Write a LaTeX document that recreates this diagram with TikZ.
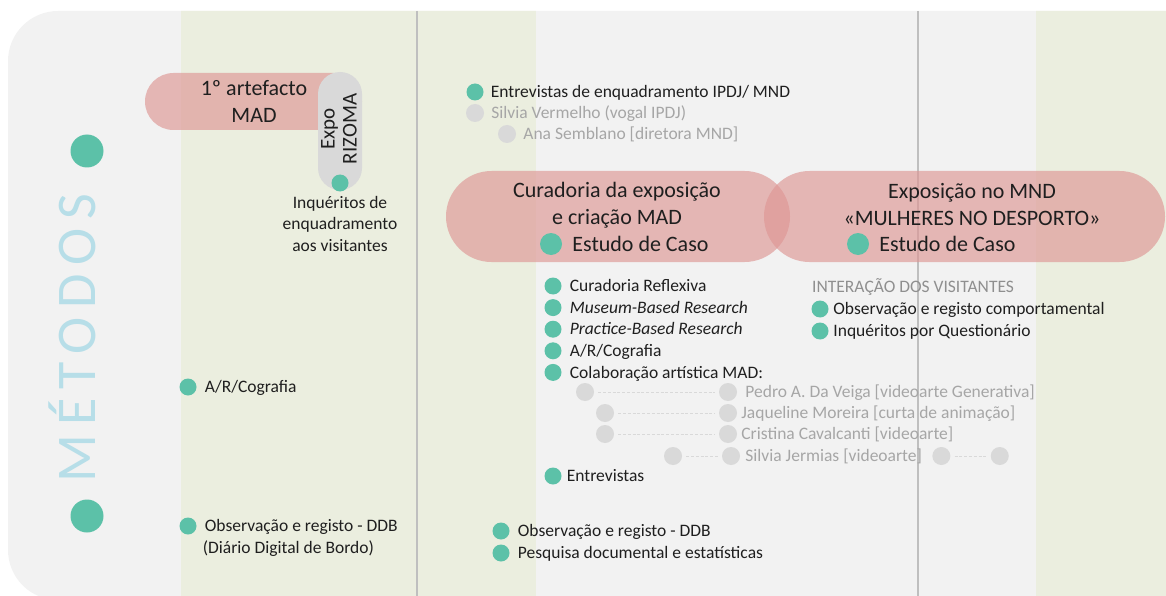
\documentclass[tikz,border=0pt]{standalone}
\usepackage{fontspec}
\setmainfont{Carlito}
\newfontfamily\metfont[LetterSpace=16]{Carlito}
\usepackage{tikz}
\usetikzlibrary{positioning}
\definecolor{bggray}{HTML}{F2F2F2}
\definecolor{bandgreen}{HTML}{EBEEDF}
\definecolor{sepgray}{HTML}{BFBFBF}
\definecolor{pillpink}{HTML}{DE9694}
\definecolor{expogray}{HTML}{D9D9D9}
\definecolor{dotgreen}{HTML}{5CC1A8}
\definecolor{dotgray}{HTML}{D9D9D9}
\definecolor{ink}{HTML}{1F1F1F}
\definecolor{namegray}{HTML}{A6A6A6}
\definecolor{headgray}{HTML}{8F8F8F}
\definecolor{metblue}{HTML}{B7DEE8}
\tikzstyle{every node}+=[inner sep=0pt]
\tikzstyle{ldot} = [circle, fill=dotgreen, minimum size=17pt]
\tikzstyle{bigdot} = [circle, fill=dotgreen, minimum size=33pt]
\tikzstyle{casedot} = [circle, fill=dotgreen, minimum size=22pt]
\tikzstyle{gdot} = [circle, fill=dotgray, minimum size=18pt]
\tikzstyle{small} = [font=\fontsize{17.5}{21.5}\selectfont, text=ink]
\tikzstyle{item} = [small, text height=11.3pt, text depth=0pt]
\tikzstyle{person} = [item, text=namegray]
\tikzstyle{pill} = [rectangle, fill=pillpink, fill opacity=0.65, text opacity=1]
\tikzstyle{pilltext} = [font=\fontsize{22}{27}\selectfont, text=ink, align=center]
\tikzstyle{casetext} = [font=\fontsize{22}{26}\selectfont, text=ink, text height=14.2pt, text depth=0pt]
\tikzstyle{metodos} = [font=\metfont\fontsize{56}{60}\selectfont, text=metblue, text height=36pt, text depth=0pt]
\tikzstyle{sepline} = [draw=sepgray, line width=1.5pt]
\tikzstyle{dashlink} = [draw=dotgray, line width=0.9pt, dash pattern=on 3pt off 1.8pt, shorten <=4pt, shorten >=4pt]

\begin{document}
\begin{tikzpicture}[x=1pt, y=-1pt, node distance=8pt]
  \useasboundingbox (0,0) rectangle (1166,596);
  \clip (0,0) rectangle (1166,596);
  % Background and columns
  \fill[bggray, rounded corners=50pt] (8,11) rectangle (1216,600);
  \begin{scope}
    \clip[rounded corners=50pt] (8,11) rectangle (1216,600);
    \fill[bandgreen] (181,0) rectangle (536,600);
    \fill[bandgreen] (1036,0) rectangle (1216,600);
  \end{scope}
  \draw[sepline] (417,11) -- (417,600);
  \draw[sepline] (918,11) -- (918,600);

  % Title
  \node[bigdot] (mTop) at (87,151) {};
  \node[bigdot] (mBot) at (87,516) {};
  \node[metodos, rotate=90] (mTitle) at (77,338) {MÉTODOS};

  % First artefact and Expo
  \node[pill, minimum width=217pt, minimum height=57pt, rounded corners=28.5pt] (art) at (253.5,101.5) {};
  \node[pilltext] (artT) at (254,101) {1º artefacto\\MAD};
  \node[fill=expogray, minimum width=44pt, minimum height=118pt, rounded corners=22pt] (expo) at (340,131) {};
  \node[pilltext, font=\fontsize{21}{22}\selectfont, rotate=90] (expoT) at (339,129) {Expo\\RIZOMA};
  \node[ldot] (dExpo) at (340,183) {};
  \node[small, align=center, below=4pt of dExpo] (inq) {Inquéritos de\\enquadramento\\aos visitantes};

  % Left column
  \node[ldot] (dArc1) at (188,387) {};
  \node[item, right=8pt of dArc1] (arc1) {A/R/Cografia};
  \node[ldot] (dDdb1) at (188,526) {};
  \node[item, right=8pt of dDdb1] (ddb1) {Observação e registo - DDB};
  \node[item, anchor=west] (ddb1b) at ([xshift=-2pt, yshift=-21.5pt]ddb1.west) {(Diário Digital de Bordo)};

  % Interviews
  \node[ldot] (dEnt) at (475,92) {};
  \node[item, right=7pt of dEnt] (ent) {Entrevistas de enquadramento IPDJ/ MND};
  \node[gdot] (gSv) at (475,113) {};
  \node[person, right=7pt of gSv] (sv) {Silvia Vermelho (vogal IPDJ)};
  \node[gdot] (gAs) at (507,134) {};
  \node[person, right=7pt of gAs] (as) {Ana Semblano [diretora MND]};

  % Case studies
  \node[pill, minimum width=344pt, minimum height=91pt, rounded corners=45.5pt] (cur) at (618,216.5) {};
  \node[pill, minimum width=401pt, minimum height=91pt, rounded corners=45.5pt] (exp) at (964.5,216.5) {};
  \node[pilltext] (curT) at (617,205) {Curadoria da exposição\\e criação MAD};
  \node[pilltext] (expT) at (972,205) {Exposição no MND\\«MULHERES NO DESPORTO»};
  \node[casedot] (dCur) at (551,244) {};
  \node[casetext, right=10pt of dCur] (curC) {Estudo de Caso};
  \node[casedot] (dExp) at (858,244) {};
  \node[casetext, right=10pt of dExp] (expC) {Estudo de Caso};

  % Curation methods
  \node[ldot] (dM1) at (553,286) {};
  \node[item, right=8pt of dM1] (m1) {Curadoria Reflexiva};
  \node[ldot, below=4.2pt of dM1] (dM2) {};
  \node[item, right=8pt of dM2] (m2) {\itshape Museum-Based Research};
  \node[ldot, below=4.2pt of dM2] (dM3) {};
  \node[item, right=8pt of dM3] (m3) {\itshape Practice-Based Research};
  \node[ldot, below=4.2pt of dM3] (dM4) {};
  \node[item, right=8pt of dM4] (m4) {A/R/Cografia};
  \node[ldot, below=4.2pt of dM4] (dM5) {};
  \node[item, right=8pt of dM5] (m5) {Colaboração artística MAD:};

  % Collaborators
  \node[gdot] (p1a) at (585,392) {};
  \node[gdot] (p1b) at (728,392) {};
  \node[person, right=8pt of p1b] (p1) {Pedro A. Da Veiga [videoarte Generativa]};
  \node[gdot] (p2a) at (605,413) {};
  \node[gdot] (p2b) at (728,413) {};
  \node[person, right=4pt of p2b] (p2) {Jaqueline Moreira [curta de animação]};
  \node[gdot] (p3a) at (605,434) {};
  \node[gdot] (p3b) at (728,434) {};
  \node[person, right=4pt of p3b] (p3) {Cristina Cavalcanti [videoarte]};
  \node[gdot] (p4a) at (673,456) {};
  \node[gdot] (p4b) at (731,456) {};
  \node[person, right=5pt of p4b] (p4) {Silvia Jermias [videoarte]};
  \node[gdot, right=10pt of p4] (p4c) {};
  \node[gdot, right=40pt of p4c] (p4d) {};
  \node[ldot] (dM6) at (553,476) {};
  \node[item, right=5pt of dM6] (m6) {Entrevistas};

  % Visitors
  \node[small, text=headgray, anchor=west] (vis) at (812,287) {INTERAÇÃO DOS VISITANTES};
  \node[ldot] (dV1) at (820,309) {};
  \node[item, right=4.5pt of dV1] (v1) {Observação e registo comportamental};
  \node[ldot] (dV2) at (820,331) {};
  \node[item, right=4.5pt of dV2] (v2) {Inquéritos por Questionário};

  % Documents
  \node[ldot] (dD1) at (501,531) {};
  \node[item, right=8pt of dD1] (d1) {Observação e registo - DDB};
  \node[ldot] (dD2) at (501,553) {};
  \node[item, right=8pt of dD2] (d2) {Pesquisa documental e estatísticas};

  % Draw links
  \path [dashlink] (p1a) -- (p1b);
  \path [dashlink] (p2a) -- (p2b);
  \path [dashlink] (p3a) -- (p3b);
  \path [dashlink] (p4a) -- (p4b);
  \path [dashlink] (p4c) -- (p4d);
\end{tikzpicture}
\end{document}
